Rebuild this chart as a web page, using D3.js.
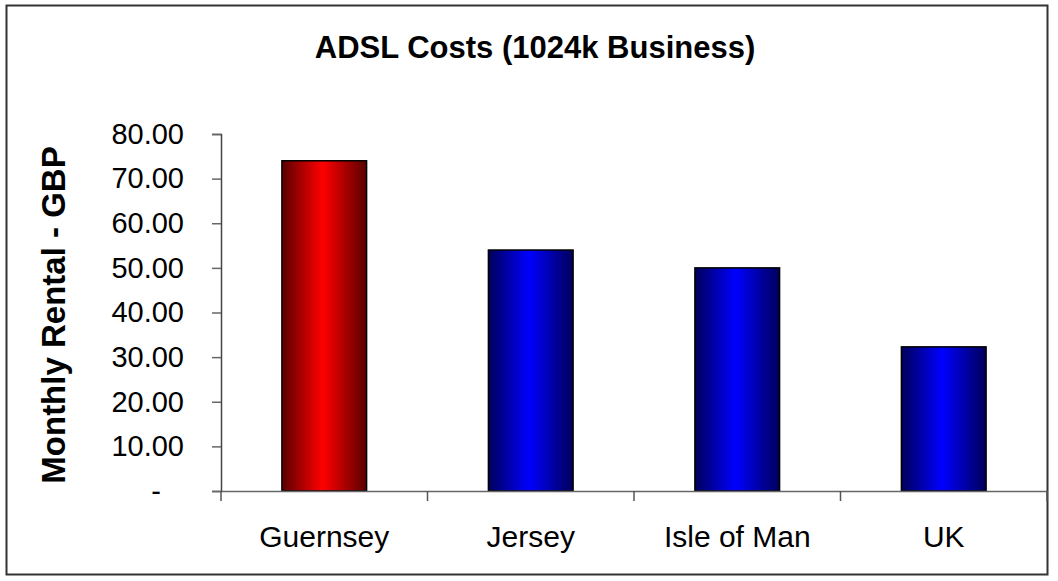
<!DOCTYPE html>
<html><head><meta charset="utf-8">
<script src="https://cdn.jsdelivr.net/npm/d3@7"></script>
<style>body{margin:0;background:#fff}svg{display:block}</style>
</head><body>
<script>
const categories = ["Guernsey", "Jersey", "Isle of Man", "UK"];
const values = [74.0, 54.0, 50.0, 32.3];
const highlight = [true, false, false, false];
const yTicks = [0, 10, 20, 30, 40, 50, 60, 70, 80];
const title = "ADSL Costs (1024k Business)";
const yTitle = "Monthly Rental - GBP";

(function () {
const W = 1058, H = 581;
const svg = d3.select("body").append("svg").attr("width", W).attr("height", H);
const defs = svg.append("defs");
function grad(id, dark, bright) {
  const g = defs.append("linearGradient").attr("id", id).attr("x1", "0%").attr("x2", "100%").attr("y1", "0%").attr("y2", "0%");
  g.append("stop").attr("offset", "0%").attr("stop-color", dark);
  g.append("stop").attr("offset", "48%").attr("stop-color", bright);
  g.append("stop").attr("offset", "100%").attr("stop-color", dark);
}
grad("gRed", "#5a0000", "#ff0000");
grad("gBlue", "#00005a", "#0000ff");

svg.append("rect").attr("x", 6.5).attr("y", 5.5).attr("width", 1041).attr("height", 569)
  .attr("fill", "#fff").attr("stroke", "#333").attr("stroke-width", 2);

const pL = 221, pR = 1047, pT = 134, pB = 491;
const x = d3.scaleBand().domain(categories).range([pL, pR]).paddingInner(0.59).paddingOuter(0.295);
const xb = d3.scaleBand().domain(categories).range([pL, pR]);
const y = d3.scaleLinear().domain([0, 80]).range([pB, pT]);

svg.selectAll("rect.bar").data(categories).enter().append("rect")
  .attr("class", "bar")
  .attr("x", d => x(d)).attr("width", x.bandwidth())
  .attr("y", (d, i) => y(values[i])).attr("height", (d, i) => y(0) - y(values[i]))
  .attr("fill", (d, i) => highlight[i] ? "url(#gRed)" : "url(#gBlue)")
  .attr("stroke", "#000").attr("stroke-width", 1.5);

const font = "'Liberation Sans', Arial, sans-serif";
const ya = svg.append("g").attr("transform", `translate(${pL},0)`)
  .call(d3.axisLeft(y).tickValues(yTicks).tickSize(9).tickPadding(28)
    .tickFormat(d => d === 0 ? "-" : d3.format(".2f")(d)));
ya.select(".domain").attr("stroke", "#444").attr("stroke-width", 1.5);
ya.selectAll(".tick line").attr("stroke", "#666").attr("stroke-width", 1.5);
ya.selectAll(".tick text").attr("font-family", font).attr("font-size", 29).attr("fill", "#000");
ya.selectAll(".tick").filter(d => d === 0).select("text").attr("dx", -23);

const xa = svg.append("g").attr("transform", `translate(0,${pB})`)
  .call(d3.axisBottom(xb).tickSize(0).tickPadding(35));
xa.select(".domain").attr("stroke", "#666").attr("stroke-width", 1.5);
xa.selectAll(".tick text").attr("font-family", font).attr("font-size", 30).attr("fill", "#000")
  .attr("y", 56).attr("dy", 0);
const bounds = categories.map(c => xb(c)).concat([pR]);
xa.selectAll("line.sep").data(bounds).enter().append("line").attr("class", "sep")
  .attr("x1", d => d).attr("x2", d => d).attr("y1", 0).attr("y2", 10)
  .attr("stroke", "#555").attr("stroke-width", 1.5);

svg.append("text").attr("x", 535).attr("y", 58).attr("text-anchor", "middle")
  .attr("font-family", font).attr("font-size", 31).attr("font-weight", "bold").text(title);
svg.append("text").attr("transform", `translate(65,315) rotate(-90)`)
  .attr("text-anchor", "middle").attr("font-family", font).attr("font-size", 33)
  .attr("font-weight", "bold").text(yTitle);
})();
</script>
</body></html>
